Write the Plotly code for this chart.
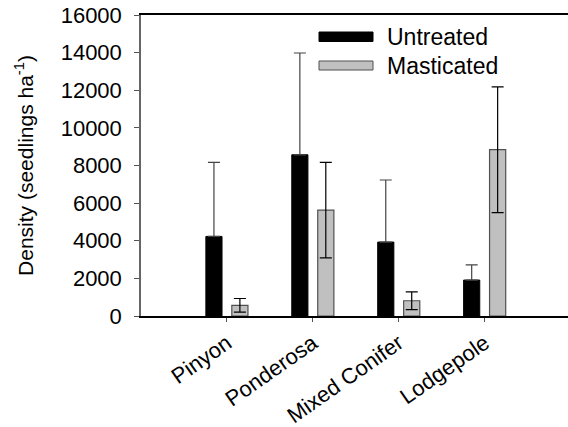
import plotly.graph_objects as go

# Seedling density by forest type, untreated vs masticated
categories = ["Pinyon", "Ponderosa", "Mixed Conifer", "Lodgepole"]
untreated = [4230, 8570, 3930, 1910]
untreated_err = [3940, 5410, 3300, 810]
masticated = [570, 5630, 810, 8840]
masticated_err = [360, 2540, 470, 3340]
y_ticks = [0, 2000, 4000, 6000, 8000, 10000, 12000, 14000, 16000]

W, H = 568, 427
L, R, T, B = 141, 0, 15, 111
FONT = "Liberation Sans, Arial, sans-serif"

xpos = list(range(len(categories)))
bar_w = 0.188

fig = go.Figure()
fig.add_trace(go.Bar(
    x=xpos, y=untreated, width=bar_w, offset=-0.245,
    marker=dict(color="black", line=dict(color="black", width=1)),
    error_y=dict(type="data", array=untreated_err, arrayminus=[0] * 4,
                 color="#444444", thickness=1.2, width=6),
    name="Untreated", showlegend=False,
))
fig.add_trace(go.Bar(
    x=xpos, y=masticated, width=bar_w, offset=0.057,
    marker=dict(color="#c0c0c0", line=dict(color="#505050", width=1.2)),
    error_y=dict(type="data", array=masticated_err, color="black",
                 thickness=1.2, width=6),
    name="Masticated", showlegend=False,
))

# legend swatches and labels in paper coordinates
pw, ph = W - L - R, H - T - B


def px(x):
    return (x - L) / pw


def py(y):
    return (H - B - y) / ph


legend_items = [("Untreated", "black", "black", 32, 41.5, 37),
                ("Masticated", "#c0c0c0", "#505050", 61, 70, 66)]
for label, fill, edge, y0, y1, ty in legend_items:
    fig.add_shape(type="rect", xref="paper", yref="paper",
                  x0=px(319), x1=px(373), y0=py(y1), y1=py(y0),
                  fillcolor=fill, line=dict(color=edge, width=1))
    fig.add_annotation(xref="paper", yref="paper", x=px(385),
                       y=py(ty), text=label, showarrow=False,
                       xanchor="left", yanchor="middle",
                       font=dict(family=FONT, size=23, color="black"))

fig.update_layout(
    width=W, height=H,
    margin=dict(l=L, r=R, t=T, b=B, pad=0),
    paper_bgcolor="white", plot_bgcolor="white",
    barmode="overlay",
    font=dict(family=FONT, size=22, color="black"),
    xaxis=dict(
        range=[-1, 3.97], tickmode="array", tickvals=xpos, ticktext=categories,
        tickangle=-35, ticks="outside", ticklen=4, tickcolor="#555555",
        showline=True, linecolor="black", linewidth=1.5, mirror=True,
        showgrid=False, zeroline=False,
        tickfont=dict(family=FONT, size=22, color="black"),
    ),
    yaxis=dict(
        range=[0, 16000], tickmode="array", tickvals=y_ticks,
        ticktext=[str(v) for v in y_ticks],
        ticks="outside", ticklen=5, tickcolor="#555555",
        ticklabelstandoff=8,
        showline=True, linecolor="#666666", linewidth=1.5,
        showgrid=False, zeroline=False,
        tickfont=dict(family=FONT, size=22, color="black"),
        title=dict(text="Density (seedlings ha<sup>-1</sup>)",
                   font=dict(family=FONT, size=21, color="black"),
                   standoff=21),
    ),
)

fig.write_html("out.html")
